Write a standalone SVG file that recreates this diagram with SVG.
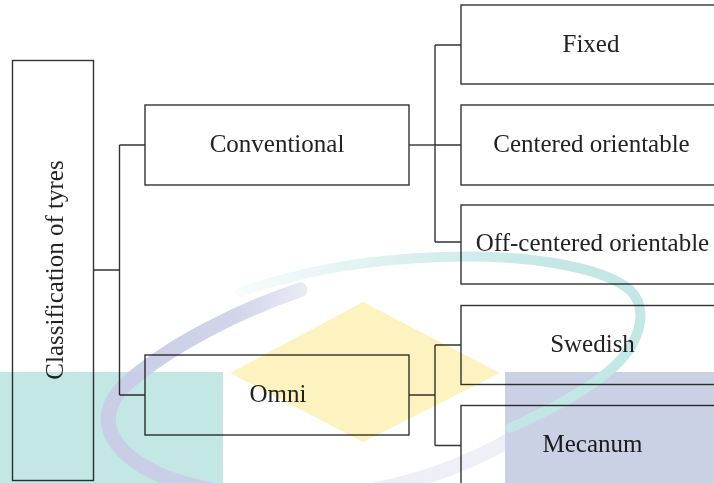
<svg xmlns="http://www.w3.org/2000/svg" width="714" height="483" viewBox="0 0 714 483">
<style>
.box{fill:none;stroke:#333;stroke-width:1.4}
.ln{fill:none;stroke:#333;stroke-width:1.4}
.t{font-family:"Liberation Serif","Times New Roman",serif;font-size:25px;fill:#222;text-anchor:middle}
.wm{mix-blend-mode:multiply}
</style>
<defs>
<linearGradient id="gTeal" gradientUnits="userSpaceOnUse" x1="230" y1="0" x2="560" y2="0">
<stop offset="0" stop-color="#c3e7e5" stop-opacity="0.1"/>
<stop offset="0.5" stop-color="#c3e7e5" stop-opacity="0.6"/>
<stop offset="1" stop-color="#c3e7e5" stop-opacity="1"/>
</linearGradient>
<linearGradient id="gLav" gradientUnits="userSpaceOnUse" x1="110" y1="0" x2="520" y2="0">
<stop offset="0" stop-color="#c9cde6" stop-opacity="1"/>
<stop offset="0.3" stop-color="#c9cde6" stop-opacity="0.85"/>
<stop offset="0.5" stop-color="#c9cde6" stop-opacity="0.35"/>
<stop offset="1" stop-color="#c9cde6" stop-opacity="0.3"/>
</linearGradient>
</defs>
<rect x="0" y="0" width="714" height="483" fill="#fff"/>
<g id="connectors">
<path class="ln" d="M93 270H119.5M119.5 145V395M119.5 145H145M119.5 395H145"/>
<path class="ln" d="M409 145H435" stroke-width="2.2"/>
<path class="ln" d="M435 45V242M435 45H461M435 145H461M435 242H461"/>
<path class="ln" d="M409 395H435M435 345V445.5M435 345H461M435 445.5H461"/>
</g>
<g id="root"><rect class="box" x="12.5" y="60.5" width="81" height="420"/><text class="t" transform="translate(63,270) rotate(-90)">Classification of tyres</text></g>
<g id="conventional"><rect class="box" x="145" y="105" width="264" height="80"/><text class="t" x="277" y="152">Conventional</text></g>
<g id="omni"><rect class="box" x="145" y="355" width="264" height="80"/><text class="t" x="278" y="401.5">Omni</text></g>
<g id="fixed"><rect class="box" x="461" y="5" width="262" height="79"/><text class="t" x="591" y="52">Fixed</text></g>
<g id="centered"><rect class="box" x="461" y="105" width="262" height="80"/><text class="t" x="591.5" y="152">Centered orientable</text></g>
<g id="offcentered"><rect class="box" x="461" y="205" width="262" height="79"/><text class="t" x="592.5" y="251">Off-centered orientable</text></g>
<g id="swedish"><rect class="box" x="461" y="305.5" width="262" height="79"/><text class="t" x="592.5" y="351.5">Swedish</text></g>
<g id="mecanum"><rect class="box" x="461" y="405.5" width="262" height="90"/><text class="t" x="592.5" y="451.5">Mecanum</text></g>
<g id="watermark" class="wm">
<rect x="0" y="372" width="223" height="111" fill="#c3e7e5"/>
<rect x="505" y="372" width="209" height="111" fill="#cad1e5"/>
<polygon points="363,302 500,373 363,442 230,373" fill="#fdf3c0"/>
<path d="M240 292C300 272 360 260 440 257C520 254 600 265 630 290C650 310 640 345 610 370C585 392 550 410 510 428" fill="none" stroke="url(#gTeal)" stroke-width="10" stroke-linecap="round"/>
<path d="M300 290C240 310 170 345 125 385C95 415 105 450 160 475C200 492 260 500 330 496C400 490 460 468 510 440" fill="none" stroke="url(#gLav)" stroke-width="15" stroke-linecap="round"/>
</g>
</svg>
